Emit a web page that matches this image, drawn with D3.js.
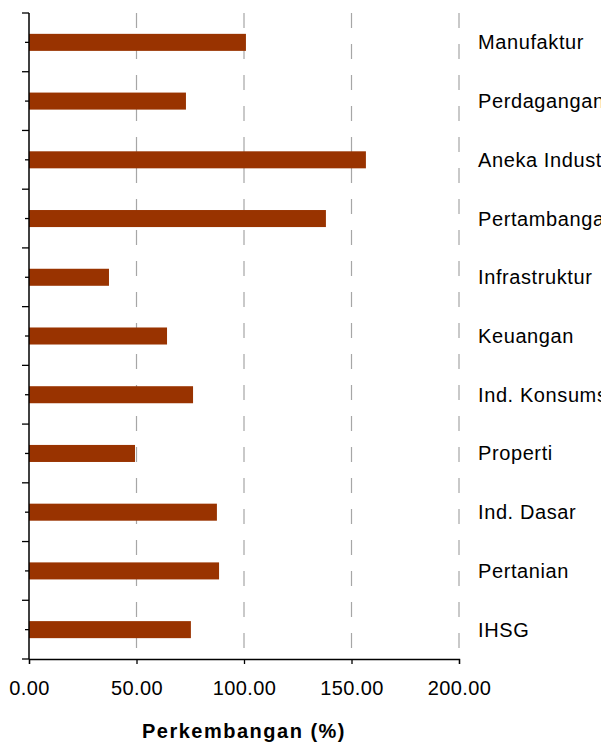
<!DOCTYPE html>
<html lang="id">
  <head>
    <meta charset="UTF-8" />
    <title>Perkembangan Indeks Sektoral</title>
    <script src="https://d3js.org/d3.v7.min.js"></script>
    <style>
      body {
        margin: 0;
        background: #fff;
      }
      svg {
        font-family: "Liberation Sans", Arial, sans-serif;
      }
      .grid line {
        stroke: #a6a6a6;
        stroke-width: 1.2;
        stroke-dasharray: 15, 16;
      }
      .cat {
        font-size: 20px;
        letter-spacing: 0.6px;
        fill: #000;
      }
    </style>
  </head>
  <body>
    <svg id="chart" width="601" height="744"></svg>

    <script>
      // data, top to bottom
      const sectors = [
        "Manufaktur",
        "Perdagangan",
        "Aneka Industri",
        "Pertambangan",
        "Infrastruktur",
        "Keuangan",
        "Ind. Konsumsi",
        "Properti",
        "Ind. Dasar",
        "Pertanian",
        "IHSG",
      ];
      const growth = [100.9, 73.0, 156.7, 138.1, 37.2, 64.2, 76.3, 49.3, 87.4, 88.4, 75.3];
      const xTicks = [0, 50, 100, 150, 200];
      const xTitle = "Perkembangan (%)";

      const svg = d3.select("#chart");
      const plotL = 29, plotR = 459, plotT = 13, plotB = 659;

      const x = d3.scaleLinear().domain([0, 200]).range([plotL, plotR]);
      const y = d3.scaleBand().domain(sectors).range([plotT, plotB]).paddingInner(0.71).paddingOuter(0.355);
      const yb = d3.scaleBand().domain(sectors).range([plotT, plotB]);

      // dashed gridlines
      svg.append("g")
        .attr("class", "grid")
        .selectAll("line")
        .data(xTicks.slice(1))
        .join("line")
        .attr("x1", (d) => x(d))
        .attr("x2", (d) => x(d))
        .attr("y1", plotT)
        .attr("y2", plotB);

      // bars
      svg.append("g")
        .selectAll("rect")
        .data(sectors)
        .join("rect")
        .attr("x", x(0))
        .attr("y", (d) => y(d))
        .attr("width", (d, i) => x(growth[i]) - x(0))
        .attr("height", y.bandwidth())
        .attr("fill", "#993300");

      // x axis
      const xAxis = d3.axisBottom(x)
        .tickValues(xTicks)
        .tickSize(5)
        .tickPadding(17)
        .tickFormat(d3.format(".2f"));
      const gx = svg.append("g").attr("transform", `translate(0,${plotB})`).call(xAxis);
      gx.select(".domain").attr("stroke", "#000").attr("stroke-width", 1.3);
      gx.selectAll(".tick line").attr("stroke", "#000").attr("stroke-width", 1.3);
      gx.selectAll(".tick text")
        .attr("font-size", 20)
        .attr("letter-spacing", "0.4px")
        .attr("font-family", "Liberation Sans, Arial, sans-serif")
        .attr("fill", "#000");

      // y axis: major ticks on category borders, minor ticks at centres
      const gy = svg.append("g");
      gy.append("line")
        .attr("x1", plotL).attr("x2", plotL)
        .attr("y1", plotT).attr("y2", plotB)
        .attr("stroke", "#000").attr("stroke-width", 1.5);
      gy.selectAll(".major")
        .data(sectors.concat(["end"]))
        .join("line")
        .attr("class", "major")
        .attr("x1", plotL - 7).attr("x2", plotL)
        .attr("y1", (d, i) => (i < sectors.length ? yb(d) : plotB))
        .attr("y2", (d, i) => (i < sectors.length ? yb(d) : plotB))
        .attr("stroke", "#000").attr("stroke-width", 1.3);
      gy.selectAll(".minor")
        .data(sectors)
        .join("line")
        .attr("class", "minor")
        .attr("x1", plotL - 4).attr("x2", plotL)
        .attr("y1", (d) => yb(d) + yb.bandwidth() / 2)
        .attr("y2", (d) => yb(d) + yb.bandwidth() / 2)
        .attr("stroke", "#000").attr("stroke-width", 1.3);

      // category labels on the right
      svg.append("g")
        .selectAll("text")
        .data(sectors)
        .join("text")
        .attr("class", "cat")
        .attr("x", 478)
        .attr("y", (d) => yb(d) + yb.bandwidth() / 2)
        .attr("dy", "0.35em")
        .text((d) => d);

      // axis title
      svg.append("text")
        .attr("x", (plotL + plotR) / 2)
        .attr("y", 738)
        .attr("text-anchor", "middle")
        .attr("font-size", 20)
        .attr("font-weight", "bold")
        .attr("letter-spacing", "1.5px")
        .text(xTitle);
    </script>
  </body>
</html>
